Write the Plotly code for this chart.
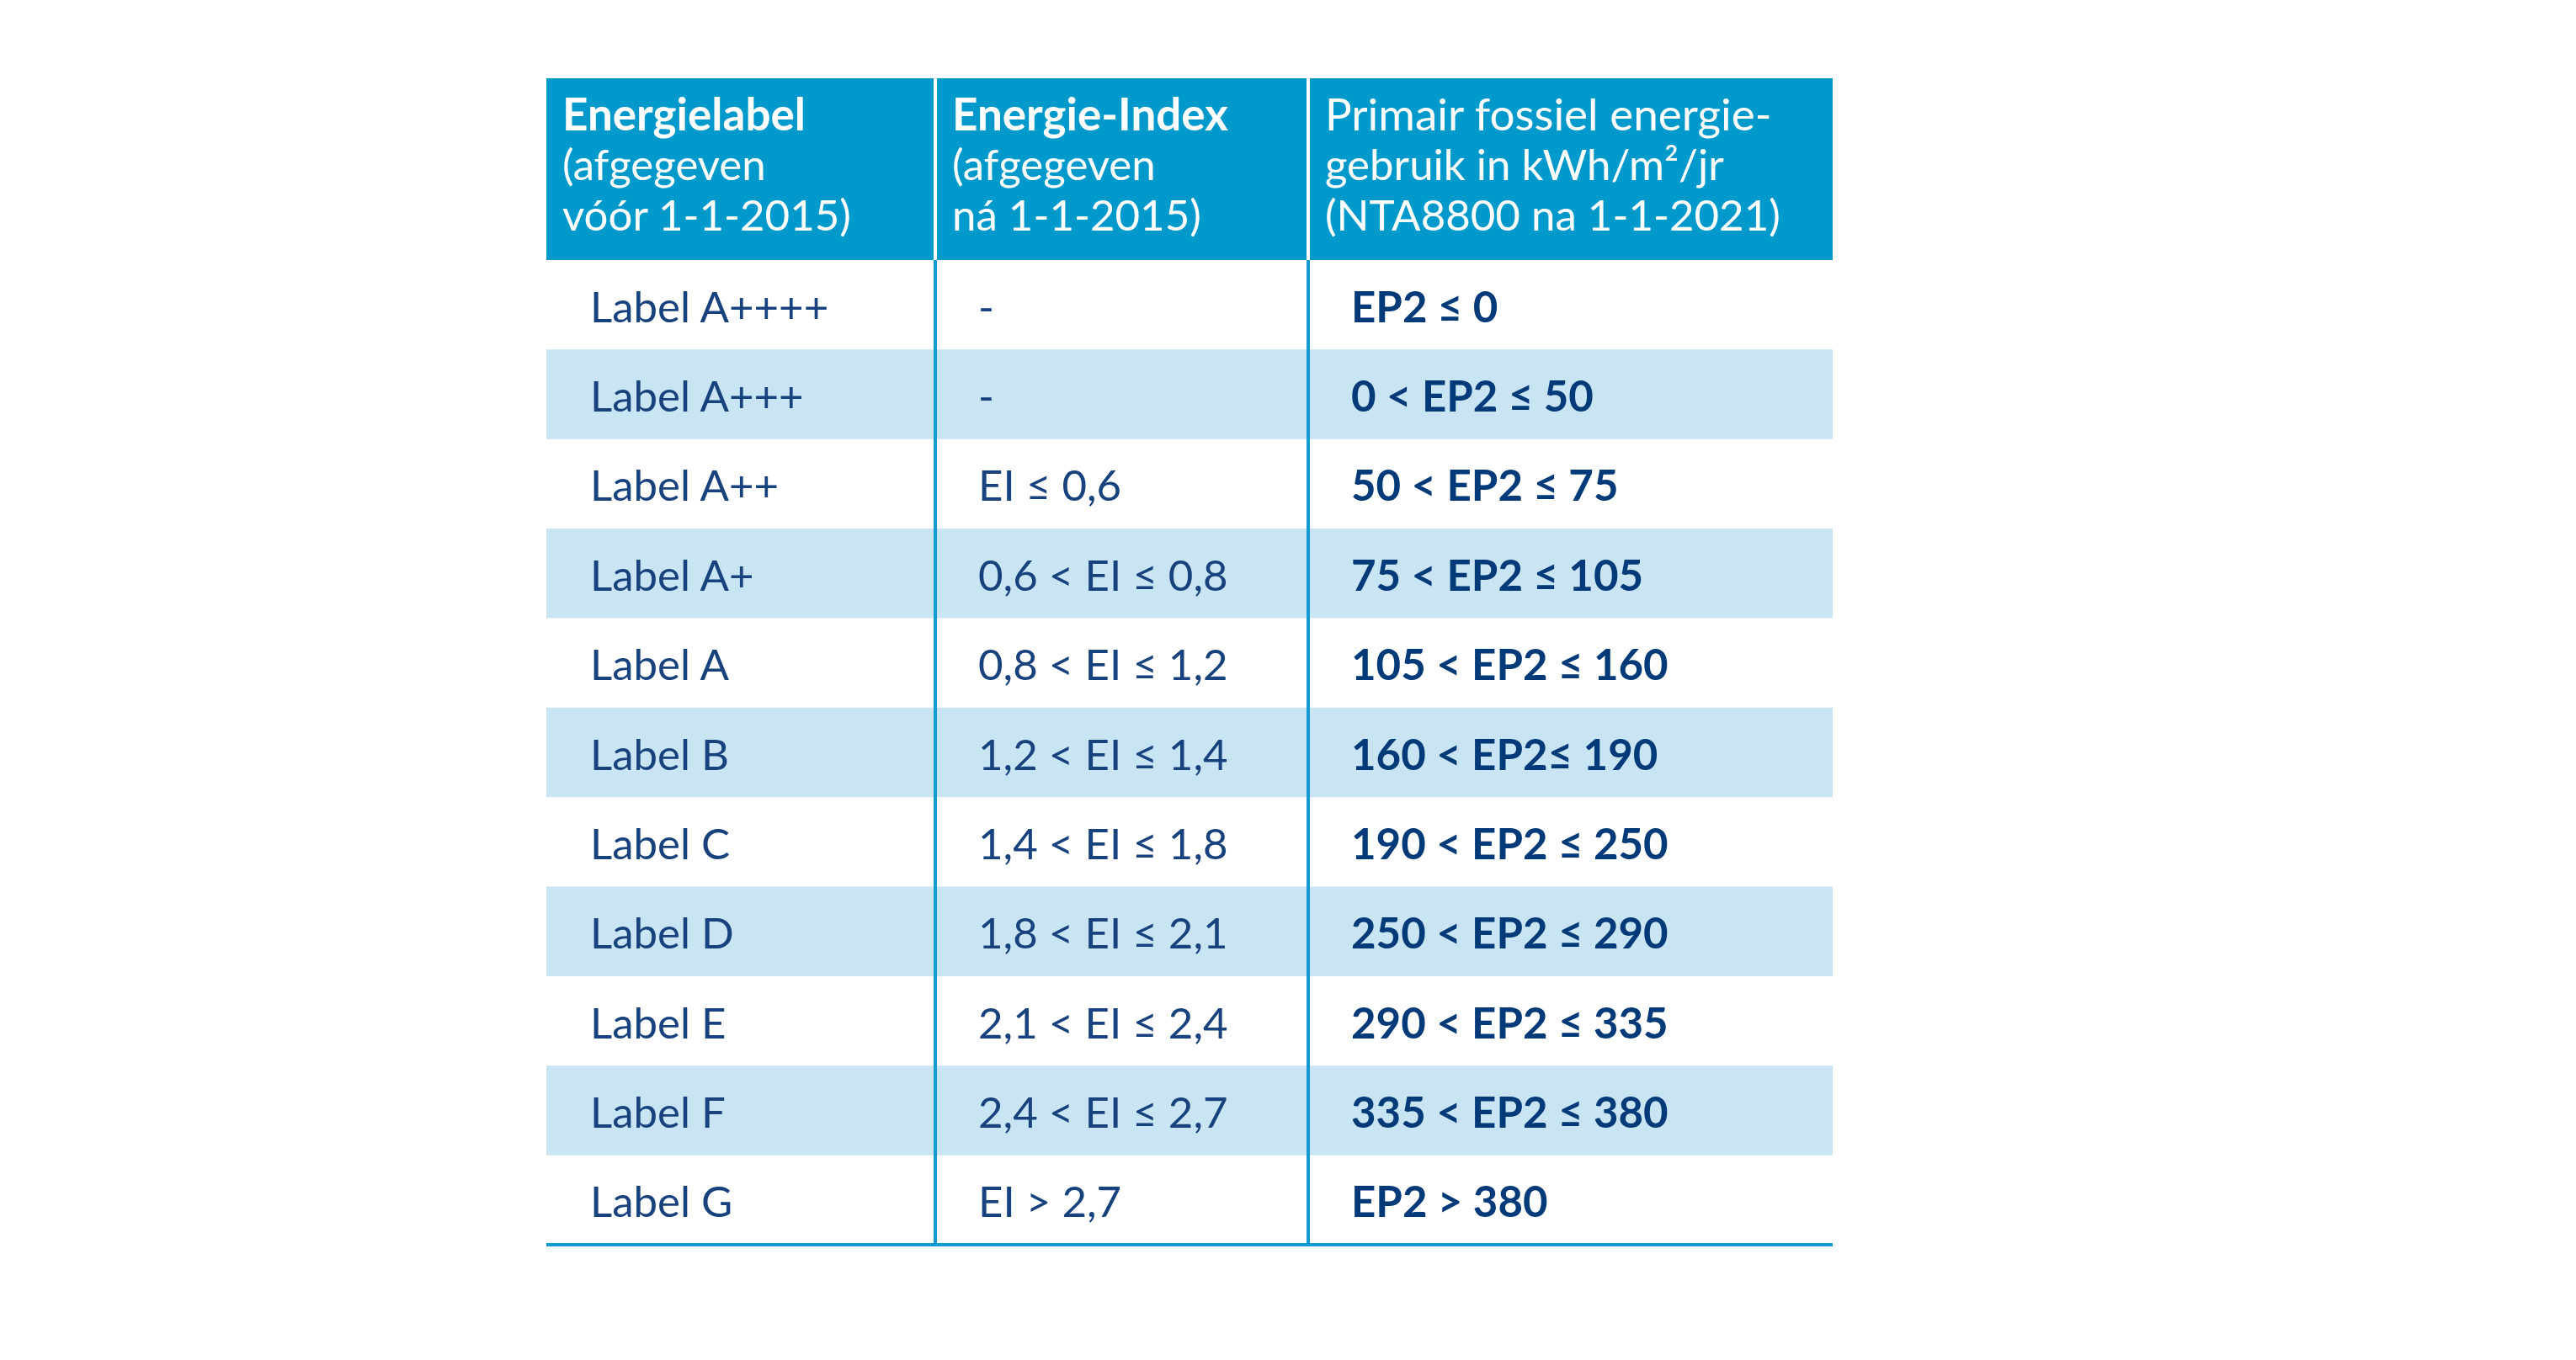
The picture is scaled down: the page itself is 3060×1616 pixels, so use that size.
import plotly.graph_objects as go

# ---- data ----
header_col1 = ["Energielabel", "(afgegeven", "vóór 1-1-2015)"]
header_col2 = ["Energie-Index", "(afgegeven", "ná 1-1-2015)"]
header_col3 = ["Primair fossiel energie-", "gebruik in kWh/m²/jr", "(NTA8800 na 1-1-2021)"]

labels = ["Label A++++", "Label A+++", "Label A++", "Label A+", "Label A",
          "Label B", "Label C", "Label D", "Label E", "Label F", "Label G"]
energie_index = ["-", "-", "EI ≤ 0,6", "0,6 < EI ≤ 0,8", "0,8 < EI ≤ 1,2",
                 "1,2 < EI ≤ 1,4", "1,4 < EI ≤ 1,8", "1,8 < EI ≤ 2,1",
                 "2,1 < EI ≤ 2,4", "2,4 < EI ≤ 2,7", "EI > 2,7"]
ep2 = ["EP2 ≤ 0", "0 < EP2 ≤ 50", "50 < EP2 ≤ 75", "75 < EP2 ≤ 105",
       "105 < EP2 ≤ 160", "160 < EP2≤ 190", "190 < EP2 ≤ 250",
       "250 < EP2 ≤ 290", "290 < EP2 ≤ 335", "335 < EP2 ≤ 380", "EP2 > 380"]

# ---- layout constants (page pixels) ----
W, H = 3060, 1616
PAGE_OFF = 8  # browser body margin
X_LEFT, X_RIGHT = 649, 2177
DIV1, DIV2 = 1111, 1554
Y_TOP, Y_HEAD = 93, 309
Y_BOTTOM = 1479
n_rows = len(labels)
row_h = (Y_BOTTOM - Y_HEAD) / n_rows

HEAD_BG = "#0099CC"
BAND = "#C9E5F3"
LINE = "#1399D3"
TXT = "#17427E"
TXT_B = "#003A78"
FONT = "Lato"
FS = 51

fig = go.Figure()
fig.add_trace(go.Scatter(x=[PAGE_OFF, W + PAGE_OFF], y=[PAGE_OFF, H + PAGE_OFF], mode="markers",
                         marker=dict(opacity=0), hoverinfo="skip", showlegend=False))

shapes = []
shapes.append(dict(type="rect", xref="x", yref="y", x0=X_LEFT, x1=X_RIGHT,
                   y0=Y_TOP, y1=Y_HEAD, fillcolor=HEAD_BG, line=dict(width=0), layer="below"))
for i in range(n_rows):
    if i % 2 == 1:
        y0 = Y_HEAD + i * row_h
        shapes.append(dict(type="rect", xref="x", yref="y", x0=X_LEFT, x1=X_RIGHT,
                           y0=y0, y1=y0 + row_h, fillcolor=BAND, line=dict(width=0),
                           layer="below"))
for xd in (DIV1, DIV2):
    shapes.append(dict(type="line", xref="x", yref="y", x0=xd, x1=xd,
                       y0=Y_TOP, y1=Y_HEAD, line=dict(color="white", width=4)))
    shapes.append(dict(type="line", xref="x", yref="y", x0=xd, x1=xd,
                       y0=Y_HEAD, y1=Y_BOTTOM, line=dict(color=LINE, width=4)))
shapes.append(dict(type="line", xref="x", yref="y", x0=X_LEFT, x1=X_RIGHT,
                   y0=Y_BOTTOM, y1=Y_BOTTOM, line=dict(color=LINE, width=4)))

annotations = []
head_x = [666, 1129, 1572]
head_baselines = [153, 213, 273]
cap = 37
for cx, lines, bold_first in ((head_x[0], header_col1, True),
                              (head_x[1], header_col2, True),
                              (head_x[2], header_col3, False)):
    for j, t in enumerate(lines):
        txt = f"<b>{t}</b>" if (bold_first and j == 0) else t
        annotations.append(dict(x=cx, y=head_baselines[j] - cap / 2, xref="x", yref="y",
                                text=txt, showarrow=False, xanchor="left", yanchor="middle",
                                font=dict(family=FONT, size=FS if j else FS + 2, color="white")))

body_x = [699, 1160, 1603]
for i in range(n_rows):
    yc = Y_HEAD + (i + 0.5) * row_h + 1
    annotations.append(dict(x=body_x[0], y=yc, xref="x", yref="y", text=labels[i],
                            showarrow=False, xanchor="left", yanchor="middle",
                            font=dict(family=FONT, size=FS, color=TXT)))
    annotations.append(dict(x=body_x[1], y=yc, xref="x", yref="y", text=energie_index[i],
                            showarrow=False, xanchor="left", yanchor="middle",
                            font=dict(family=FONT, size=FS, color=TXT)))
    annotations.append(dict(x=body_x[2], y=yc, xref="x", yref="y", text=f"<b>{ep2[i]}</b>",
                            showarrow=False, xanchor="left", yanchor="middle",
                            font=dict(family=FONT, size=FS, color=TXT_B)))

fig.update_layout(
    width=W, height=H, margin=dict(l=0, r=0, t=0, b=0),
    paper_bgcolor="white", plot_bgcolor="white",
    xaxis=dict(range=[PAGE_OFF, W + PAGE_OFF], visible=False, fixedrange=True),
    yaxis=dict(range=[H + PAGE_OFF, PAGE_OFF], visible=False, fixedrange=True),
    shapes=shapes, annotations=annotations, showlegend=False,
)

fig.write_html("out.html")
